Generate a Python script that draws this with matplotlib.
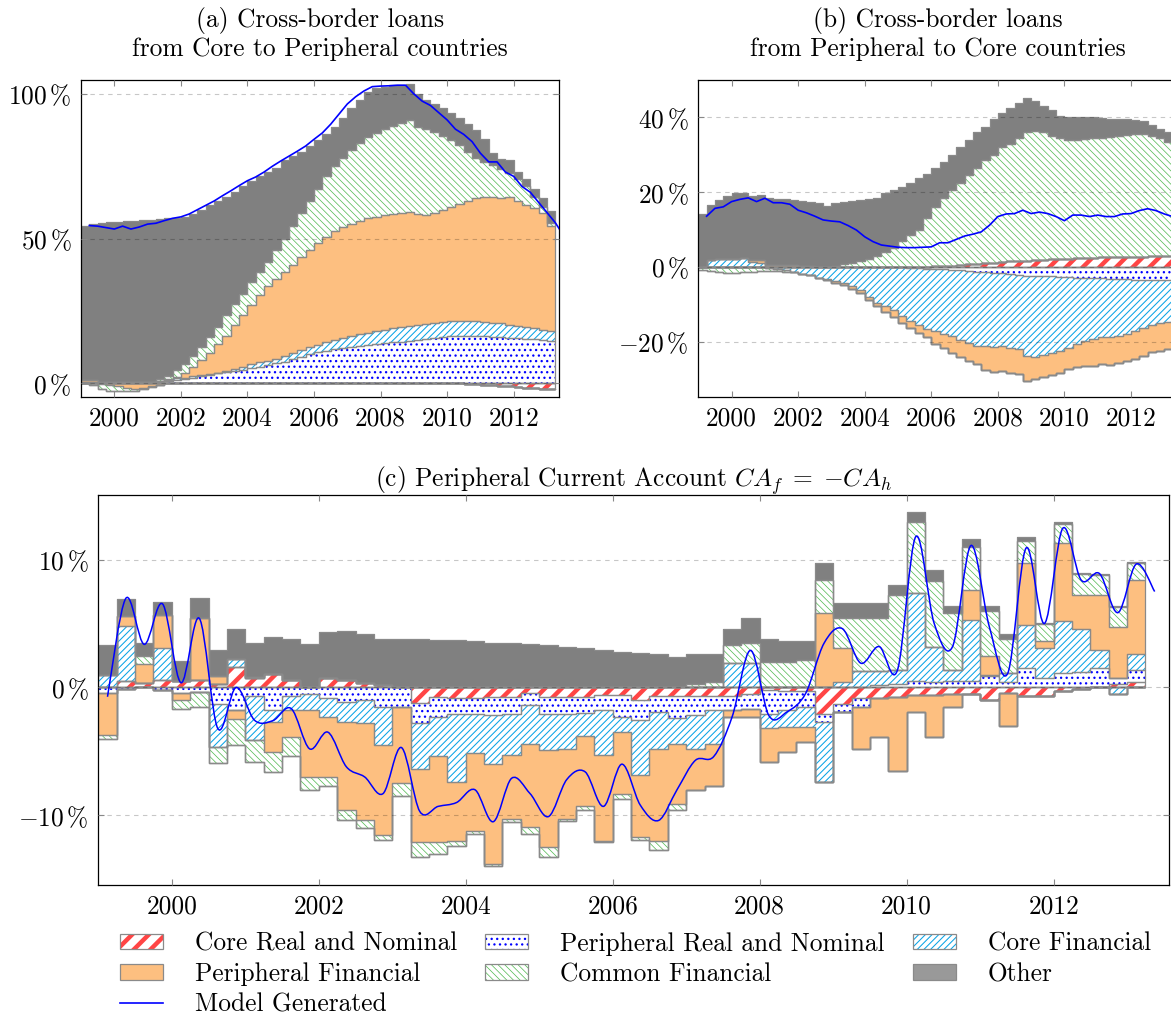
import numpy as np
import matplotlib
matplotlib.use("Agg")
import matplotlib.pyplot as plt
from matplotlib.path import Path
from matplotlib.patches import PathPatch, Patch
from matplotlib.lines import Line2D

plt.rcParams['font.family'] = 'cmr10'
plt.rcParams['mathtext.fontset'] = 'cm'
plt.rcParams['axes.unicode_minus'] = False
plt.rcParams['axes.formatter.use_mathtext'] = True

# quarterly bars 1999Q1 .. 2013Q1, model line points
quarters = 1999 + 0.25 * np.arange(57)
line_x_ab = 1999.25 + 0.25 * np.arange(58)
line_x_c = 1999.125 + 0.25 * np.arange(58)

labels = ['Core Real and Nominal', 'Peripheral Real and Nominal', 'Core Financial',
          'Peripheral Financial', 'Common Financial', 'Other']

# ---------------- panel (a) ----------------
a_core_rn = [0]*46 + [-0.1, -0.4, -0.5, -0.7, -0.9, -1.1, -1.3, -1.5, -1.7, -1.9, -2.1]
a_periph_rn = [0.1, 0.1, 0.1, 0.1, 0.1, 0.2, 0.2, 0.3, 0.3, 0.5, 0.7, 1.0,
               1.5, 2.0, 2.4, 2.9, 3.4, 3.8, 4.2, 4.7, 5.2, 5.7, 6.3, 6.9,
               7.5, 8.3, 9.1, 10.0, 10.8, 11.3, 11.8, 12.3, 12.7, 13.0, 13.3, 13.6,
               13.8, 14.1, 14.4, 14.7, 15.0, 15.4, 15.8, 16.1, 16.4, 16.5, 16.5, 16.4,
               16.2, 16.1, 16.0, 15.8, 15.6, 15.4, 15.2, 15.0, 14.7]
a_core_fin = [0.2]*9 + [0.4, 0.6, 0.8,
              0.5, 0.4, 0.4, 0.3, 0.3, 0.5, 0.8, 1.1, 1.4, 1.5, 1.5, 1.6,
              1.9, 2.1, 2.3, 2.4, 2.6, 2.9, 3.2, 3.5, 3.7, 4.0, 4.2, 4.4,
              4.7, 4.9, 5.0, 5.1, 5.2, 5.2, 5.2, 5.2, 5.1, 5.1, 5.1, 5.1,
              5.1, 4.9, 4.7, 4.5, 4.2, 4.0, 3.8, 3.5, 3.3]
a_periph_fin = [0.9, 0.7, -0.3, -0.5, -1.0, -1.5, -1.8, -1.5, -1.0, -0.5, 0.2, 0.5,
                1.5, 3.1, 5.2, 7.3, 9.8, 12.2, 15.0, 17.7, 20.4, 23.3, 25.7, 27.5,
                29.1, 30.6, 32.1, 33.6, 35.1, 36.3, 37.5, 38.2, 38.6, 39.0, 39.5, 39.5,
                39.5, 39.5, 39.6, 39.5, 38.3, 37.6, 38.0, 38.7, 39.5, 40.4, 41.4, 42.5,
                43.2, 43.2, 43.3, 44.2, 43.2, 42.1, 41.5, 40.5, 36.5]
a_common_fin = [0, -0.5, -1.5, -2.0, -1.5, -1.0, -0.8, -0.5, -0.3, 0.6, 1.0, 2.2,
                3.0, 4.0, 4.5, 5.5, 6.0, 7.0, 7.5, 7.5, 8.0, 8.0, 8.5, 10.0,
                11.5, 13.5, 15.5, 17.0, 18.5, 21.0, 22.5, 24.0, 25.5, 27.0, 28.0, 29.0,
                30.0, 30.5, 31.0, 31.7, 30.0, 29.8, 28.0, 25.5, 23.0, 20.5, 17.0, 14.0,
                12.0, 11.3, 10.0, 8.0, 7.5, 6.5, 4.0, 2.0, 1.0]
a_other = [53.3, 54.0, 55.0, 55.3, 55.5, 55.6, 55.8, 55.9, 56.0, 55.3, 54.5, 52.7,
           51.0, 49.0, 47.5, 45.5, 43.5, 41.0, 38.5, 37.0, 35.0, 33.0, 31.0, 28.5,
           27.0, 24.0, 21.0, 19.0, 17.0, 14.5, 13.5, 13.5, 14.5, 15.0, 15.5, 15.5,
           14.5, 14.0, 13.2, 12.3, 11.5, 10.0, 9.5, 9.5, 9.5, 9.0, 9.5, 9.5,
           8.0, 4.0, 3.5, 4.5, 2.5, 2.5, 2.5, 3.0, 4.0]
a_model = [54.5, 54.3, 53.8, 53.3, 54.3, 53.3, 54.0, 55.0, 55.3, 56.2, 57.0,
           57.5, 58.5, 60.0, 61.5, 63.0, 64.8, 66.5, 68.3, 70.0, 71.3, 73.0, 75.0,
           76.8, 78.5, 80.2, 82.0, 84.3, 86.5, 89.5, 93.0, 96.5, 99.0, 101.0, 102.5,
           102.7, 102.8, 103.0, 103.0, 100.0, 97.5, 96.0, 93.5, 91.0, 87.8, 86.0, 83.5,
           79.5, 76.5, 76.5, 73.0, 71.5, 68.0, 66.0, 62.5, 59.0, 55.5, 51.0]

# ---------------- panel (b) ----------------
b_core_rn = [0]*26 + [0.1, 0.1, 0.2, 0.2, 0.3, 0.5, 0.8, 0.9, 1.0, 1.2, 1.4, 1.5, 1.6,
                      1.7, 1.9, 2.0, 2.1, 2.1, 2.2, 2.3, 2.4, 2.5, 2.6, 2.6, 2.7, 2.7,
                      2.8, 2.8, 2.9, 2.9, 3.0]
b_periph_rn = [0]*24 + [-0.1, -0.2, -0.3, -0.4, -0.5, -0.6, -0.8, -0.9, -1.0, -1.2, -1.3,
                        -1.5, -1.7, -1.9, -2.1, -2.3, -2.4, -2.5, -2.5, -2.6, -2.7, -2.8,
                        -2.9, -3.0, -3.0, -3.1, -3.2, -3.3, -3.4, -3.4, -3.5, -3.5, -3.5]
b_core_fin = [0, 2.0, 2.1, 2.2, 2.2, 2.3, 1.4, 1.2, -0.3, -0.6, -0.9, -1.2,
              -1.8, -2.2, -2.8, -3.2, -3.8, -4.2, -5.0, -6.0, -8.0, -9.5, -10.5, -11.5,
              -12.9, -14.3, -15.2, -16.1, -16.7, -17.2, -17.7, -18.6, -19.3, -19.8, -19.9, -19.8,
              -19.5, -19.6, -19.9, -21.5, -21.6, -21.0, -20.5, -19.9, -18.8, -17.7, -16.9, -16.2,
              -15.6, -15.7, -15.1, -14.5, -13.6, -12.9, -12.0, -11.5, -11.2]
b_periph_fin = [0, 0, 0, 0, 0, 0, 0.5, 0.6, 0.6, 0.6, 0.6, 0.5,
                0.4, 0.2, -0.2, -0.3, -0.4, -0.6, -0.8, -0.8, -0.8, -1.0, -1.5, -1.8,
                -2.0, -1.8, -2.0, -2.3, -3.3, -3.7, -4.5, -4.5, -4.7, -5.0, -6.3, -6.7,
                -6.6, -6.7, -6.5, -6.7, -6.0, -6.0, -5.8, -5.8, -5.8, -6.3, -6.7, -7.3,
                -7.4, -7.4, -7.2, -7.4, -7.5, -7.5, -7.3, -7.3, -7.3]
b_common_fin = [-0.8, -1.0, -1.2, -1.5, -1.5, -1.3, -1.2, -1.0, -0.8, -0.5, -0.3, -0.2,
                0, 0, 0, 0, 0.3, 0.8, 1.2, 1.7, 2.2, 3.0, 4.0, 5.0,
                7.0, 8.5, 9.9, 12.9, 15.8, 18.3, 20.2, 22.0, 23.7, 25.6, 27.5, 28.8,
                30.6, 31.5, 32.9, 34.3, 34.6, 34.0, 32.9, 32.4, 31.8, 31.7, 31.9, 32.0,
                31.9, 32.2, 32.3, 32.6, 32.8, 32.8, 32.1, 31.6, 30.5]
b_other = [14.2, 14.6, 15.8, 16.9, 17.5, 17.6, 17.2, 17.5, 17.8, 17.7, 17.5, 17.5,
           17.3, 17.2, 17.0, 16.4, 16.9, 16.6, 16.5, 16.2, 15.9, 15.5, 15.7, 15.5,
           14.5, 14.0, 13.7, 12.0, 10.4, 9.5, 9.4, 9.5, 9.5, 9.5, 9.0, 9.5,
           9.1, 9.5, 9.3, 9.1, 8.0, 7.0, 7.0, 6.0, 6.2, 6.0, 5.9, 5.7,
           5.3, 4.9, 4.5, 4.2, 3.7, 3.4, 3.0, 2.5, 2.5]
b_model = [13.6, 15.7, 16.1, 17.5, 18.1, 18.5, 17.5, 18.4, 17.2, 17.2, 16.8,
           15.2, 14.5, 13.6, 12.6, 12.3, 12.1, 11.1, 9.9, 8.1, 6.8, 5.9, 5.6,
           5.3, 5.2, 5.2, 5.3, 5.4, 6.5, 6.5, 7.4, 8.3, 8.8, 9.4, 11.2,
           13.5, 14.2, 14.3, 15.2, 14.3, 14.7, 14.3, 13.5, 12.4, 13.9, 13.9, 13.5,
           13.9, 13.5, 13.5, 14.2, 14.3, 15.1, 15.6, 15.1, 14.2, 13.5, 13.1]

# ---------------- panel (c) ----------------
c_core_rn = [0, 0.5, 0.35, 0.6, 0.5, 0.55, 0.3, 1.6, 0.7, 1.05, 0.6, 0,
             0.75, 0.6, 0.35, 0.2, 0, -1.25, -0.75, -0.8, -0.8, -0.75, -0.75, -0.4,
             -0.75, -0.75, -0.75, -0.6, -0.6, -1.0, -0.7, -0.7, -0.7, -0.7, -0.7, -0.5,
             -0.2, -0.3, -0.3, -2.05, -1.3, -0.8, -0.8, -0.75, -0.6, -0.6, -0.55, -0.5,
             -1.0, -0.4, -0.7, -0.7, -0.3, -0.1, 0, 0.3, 0.45]
c_periph_rn = [-0.4, -0.1, 0, -0.2, -0.45, -0.35, -1.3, -1.8, -0.7, -1.8, -0.7, -0.5,
               -0.85, -1.1, -1.0, -1.55, -1.5, -1.55, -1.55, -1.25, -1.25, -1.4, -1.3, -1.0,
               -1.3, -1.3, -1.25, -1.2, -1.75, -1.55, -1.2, -1.7, -1.45, -1.1, -1.1, -1.15,
               -1.85, -1.5, -1.2, -0.65, -0.6, -0.7, 0.2, 0.3, 0.5, 0.4, 0.5, 0.5,
               0.9, 0.45, 1.5, 0.7, 1.15, 1.2, 1.5, 0.4, 0.9]
c_core_fin = [1.0, 4.3, 0, 2.45, 0, 0, -3.35, 0.6, -3.4, -0.9, -1.1, -1.3,
              -1.5, -1.6, -1.8, -2.95, 0, -3.55, -3.1, -5.35, -3.1, -3.85, -3.25, -3.0,
              -2.85, -2.8, -1.8, -3.5, -1.15, -4.3, -2.9, -2.0, -2.65, -2.6, 1.9, 1.9,
              -1.15, -1.3, -1.6, -4.7, 0.45, 1.3, 1.1, 1.05, 6.85, 2.75, 0.85, 4.75,
              0.1, 0.65, 3.4, 2.35, 4.05, 3.35, 1.4, -0.5, 1.3]
c_periph_fin = [-3.3, 0.8, 1.45, 2.65, -0.55, 4.85, 0.6, -0.7, 0.15, -2.35, -2.1, -5.2,
                -4.65, -6.9, -7.6, -7.05, -6.0, -5.75, -6.7, -4.6, -6.05, -7.8, -4.95, -6.5,
                -7.6, -5.4, -5.5, -6.7, -4.8, -4.85, -7.2, -4.7, -3.2, -3.3, -0.55, -0.7,
                -2.6, -1.95, -1.15, 5.8, 2.65, -3.3, -3.1, -5.75, -1.3, -3.3, -0.95, 2.35,
                1.45, -2.6, 4.8, 0.55, 6.1, 2.7, 4.3, 4.05, 5.75]
c_common_fin = [-0.3, 0, 0.65, 0, -0.7, -1.15, -1.25, -2.0, -1.7, -1.6, -1.5, -1.0,
                -0.7, -0.8, -0.6, -0.4, -1.0, -1.15, -0.9, -0.4, -0.3, -0.2, -0.25, -0.6,
                -0.75, -0.2, -0.25, -0.1, -0.4, -0.2, -0.75, -0.5, 0.3, 0.45, 1.4, 1.6,
                2.0, 2.0, 2.15, 2.6, 2.3, 4.1, 4.1, 5.85, 5.6, 5.2, 4.45, 3.4,
                3.5, 2.65, 1.75, 1.35, 1.45, 1.6, 1.6, 1.55, 1.3]
c_other = [2.3, 1.3, 1.0, 1.0, 1.6, 1.6, 2.0, 2.35, 2.6, 2.9, 3.2, 3.37,
           3.55, 3.8, 3.8, 3.55, 3.8, 3.76, 3.73, 3.68, 3.6, 3.5, 3.45, 3.4,
           3.3, 3.2, 3.05, 2.9, 2.8, 2.7, 2.6, 2.4, 2.3, 2.2, 1.3, 1.9,
           1.75, 1.65, 1.5, 1.3, 1.2, 1.2, 1.2, 0.85, 0.75, 0.8, 0.55, 0.6,
           0.45, 0.4, 0.3, 0.1, 0.2, 0.1, 0.1, 0.1, 0.1]
c_model = [-0.73, 6.97, 3.37, 6.53, 0.37, 5.4, -3.2, 0.0, -2.56, -2.6, -1.65, -4.8,
           -3.5, -6.2, -7.0, -8.3, -4.7, -9.7, -9.3, -9.0, -8.0, -10.5, -7.1, -8.3,
           -10.1, -7.2, -6.6, -9.3, -6.0, -9.2, -10.4, -8.0, -5.7, -5.4, -2.3, 2.9,
           -2.2, -1.9, -0.47, 3.45, 4.6, 1.9, 3.2, 1.36, 11.8, 5.0, 3.2, 11.1,
           4.75, 1.1, 10.9, 5.0, 12.45, 8.4, 8.9, 5.85, 9.65, 7.5]

# styles: fill, hatch, hatch colour, hatch width
faces = ['white', 'white', 'white', '#fdbf80', 'white', '#808080']
hatches = ['//', '...', '/////', None, '\\\\\\\\\\', None]
hcolors = ['#ff4545', '#0000ff', '#0aa3e6', '#fdbf80', '#4cb84c', '#808080']
hwidths = [3.2, 0.9, 0.75, 0.5, 0.5, 0.5]
outline = '#8a8a8a'
fs = 18.3


def stack(ax, series):
    edges = np.append(quarters, quarters[-1] + 0.25)
    pos = np.zeros(len(quarters))
    neg = np.zeros(len(quarters))
    for vals, fc, h, hc, hw in zip(series, faces, hatches, hcolors, hwidths):
        v = np.asarray(vals, float)
        for part, base in ((np.clip(v, 0, None), pos), (np.clip(v, None, 0), neg)):
            lo = base.copy()
            hi = base + part
            y1 = np.append(lo, lo[-1])
            y2 = np.append(hi, hi[-1])
            with plt.rc_context({'hatch.linewidth': hw}):
                c = ax.fill_between(edges, y1, y2, step='post', facecolor=fc,
                                    edgecolor=hc, hatch=h, linewidth=0, zorder=1)
            if hasattr(c, 'set_hatch_linewidth'):
                c.set_hatch_linewidth(hw)
            ax.fill_between(edges, y1, y2, step='post', facecolor='none',
                            edgecolor=outline, linewidth=0.9, zorder=1.5)
            base += part


def smooth_path(x, y, k=1/6):
    x = np.asarray(x, float)
    y = np.asarray(y, float)
    xp = np.concatenate([[x[0]], x, [x[-1]]])
    yp = np.concatenate([[y[0]], y, [y[-1]]])
    verts = [(x[0], y[0])]
    codes = [Path.MOVETO]
    for i in range(len(x) - 1):
        c1 = (x[i] + k*(xp[i+2]-xp[i]), y[i] + k*(yp[i+2]-yp[i]))
        c2 = (x[i+1] - k*(xp[i+3]-xp[i+1]), y[i+1] - k*(yp[i+3]-yp[i+1]))
        verts += [c1, c2, (x[i+1], y[i+1])]
        codes += [Path.CURVE4]*3
    return Path(verts, codes)


def style(ax, xlim, ylim, yticks):
    ax.set_xlim(*xlim)
    ax.set_ylim(*ylim)
    ax.set_xticks(range(2000, 2013, 2))
    ax.set_xticklabels([str(y) for y in range(2000, 2013, 2)])
    ax.set_yticks(yticks)
    ax.set_yticklabels([r'$%d\,\%%$' % t for t in yticks])
    ax.tick_params(direction='in', length=4, width=0.8, color='#888888',
                   top=True, right=True, labelsize=fs, pad=7)
    ax.set_axisbelow(False)
    ax.yaxis.grid(True, linestyle=(0, (4, 4)), color='black', alpha=0.22, lw=0.8)
    for s in ax.spines.values():
        s.set_linewidth(0.9)


fig = plt.figure(figsize=(11.71, 10.17), dpi=100)
W, H = 1171, 1017

ax_a = fig.add_axes([81/W, 1-397.3/H, 478.3/W, 317.3/H])
stack(ax_a, [a_core_rn, a_periph_rn, a_core_fin, a_periph_fin, a_common_fin, a_other])
ax_a.plot(line_x_ab, a_model, color='#0000ff', lw=1.2, zorder=4)
style(ax_a, (1999, 2013.37), (-4.84, 104.8), [0, 50, 100])
ax_a.set_title('(a) Cross-border loans\nfrom Core to Peripheral countries',
               fontsize=fs, linespacing=1.2, pad=17)

ax_b = fig.add_axes([698.3/W, 1-397.3/H, 478.3/W, 317.3/H])
stack(ax_b, [b_core_rn, b_periph_rn, b_core_fin, b_periph_fin, b_common_fin, b_other])
ax_b.plot(line_x_ab, b_model, color='#0000ff', lw=1.2, zorder=4)
style(ax_b, (1999, 2013.37), (-34.8, 50.0), [-20, 0, 20, 40])
ax_b.set_title('(b) Cross-border loans\nfrom Peripheral to Core countries',
               fontsize=fs, linespacing=1.2, pad=17)

ax_c = fig.add_axes([98.3/W, 1-885/H, 1070.7/W, 390/H])
stack(ax_c, [c_core_rn, c_periph_rn, c_core_fin, c_periph_fin, c_common_fin, c_other])
ax_c.add_patch(PathPatch(smooth_path(line_x_c, c_model), facecolor='none',
                         edgecolor='#0000ff', lw=1.1, zorder=4))
style(ax_c, (1999, 2013.57), (-15.45, 15.05), [-10, 0, 10])
ax_c.set_title(r'(c) Peripheral Current Account $CA_f\;=\;{-}CA_h$', fontsize=fs, pad=6)

# legend
handles = []
for i in range(6):
    fc = '#999999' if i == 5 else faces[i]
    face = Patch(facecolor=fc, edgecolor=hcolors[i] if i != 5 else fc,
                 hatch=hatches[i], linewidth=0)
    edge = Patch(facecolor='none', edgecolor=outline, linewidth=0.9)
    handles.append((face, edge))
model_h = Line2D([], [], color='#0000ff', lw=1.2)
order_h = [handles[0], handles[3], model_h, handles[1], handles[4], handles[2], handles[5]]
order_l = [labels[0], labels[3], 'Model Generated', labels[1], labels[4], labels[2], labels[5]]
leg = fig.legend(order_h, order_l, loc='upper left', bbox_to_anchor=(120/W, 1-932/H),
                 ncol=3, frameon=False, fontsize=fs, handlelength=1.69, handleheight=0.55,
                 handletextpad=1.26, columnspacing=1.1, labelspacing=0.26,
                 borderpad=0, borderaxespad=0)
hw_map = dict(zip(hatches, hwidths))
for p in leg.get_patches():
    h = p.get_hatch()
    if h in hw_map and hasattr(p, 'set_hatch_linewidth'):
        p.set_hatch_linewidth(hw_map[h])

fig.savefig('out.png', dpi=100)
